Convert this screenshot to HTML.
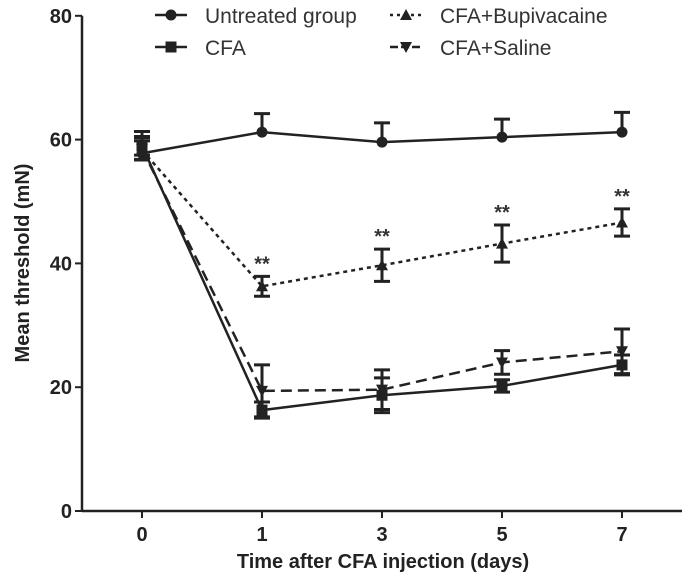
<!DOCTYPE html>
<html><head><meta charset="utf-8"><style>
html,body{margin:0;padding:0;background:#fff}
svg{display:block;font-family:"Liberation Sans",Arial,sans-serif}
</style></head><body>
<svg id="chart" width="695" height="583" viewBox="0 0 695 583" xmlns="http://www.w3.org/2000/svg">
<g id="axes"></g>
<g id="series"></g>
<g id="legend"></g>
<text transform="translate(29,263) rotate(-90)" text-anchor="middle" font-size="20" font-weight="bold" fill="#222">Mean threshold (mN)</text>
<text x="383" y="568" text-anchor="middle" font-size="20" font-weight="bold" fill="#222">Time after CFA injection (days)</text>
</svg>
<script>
const categories = ["0","1","3","5","7"];
const yTicks = [0,20,40,60,80];
const untreated = [57.8,61.2,59.6,60.4,61.2];
const untreatedErr = [3.5,3.0,3.1,2.9,3.2];
const cfa = [59.0,16.3,18.7,20.2,23.6];
const cfaErr = [1.5,1.3,2.8,1.0,1.6];
const bupi = [58.3,36.3,39.7,43.2,46.6];
const bupiErr = [1.5,1.6,2.6,3.0,2.2];
const saline = [58.5,19.4,19.6,24.0,25.8];
const salineErr = [1.8,4.2,3.2,1.9,3.6];
const sigLabels = ["","**","**","**","**"];

const NS="http://www.w3.org/2000/svg";
function xs(i){return 142+i*120;}
function ys(v){return 511-v*6.19;}
function mk(tag,attrs,parent){const e=document.createElementNS(NS,tag);for(const k in attrs)e.setAttribute(k,attrs[k]);parent.appendChild(e);return e;}
const axes=document.getElementById('axes'),ser=document.getElementById('series'),leg=document.getElementById('legend');
const C="#222";
let a=mk('line',{x1:82,y1:ys(80),x2:82,y2:ys(0),stroke:C,'stroke-width':2.5},axes);


a=mk('line',{x1:82,y1:ys(0),x2:682,y2:ys(0),stroke:C,'stroke-width':2.5},axes);


yTicks.forEach(t=>{
  const l=mk('line',{x1:75,y1:ys(t),x2:82,y2:ys(t),stroke:C,'stroke-width':2},axes);
  
  
  const tx=mk('text',{x:72,y:ys(t)+7,'text-anchor':'end','font-size':20,'font-weight':'bold',fill:C},axes);
  tx.textContent=t;
  
  
});
categories.forEach((c,i)=>{
  const l=mk('line',{x1:xs(i),y1:ys(0),x2:xs(i),y2:ys(0)+7,stroke:C,'stroke-width':2},axes);
  
  
  const tx=mk('text',{x:xs(i),y:541,'text-anchor':'middle','font-size':20,'font-weight':'bold',fill:C},axes);
  tx.textContent=c;
  
  
});
function marker(shape,x,y,g){
  let m;
  if(shape==='circle')m=mk('circle',{cx:x,cy:y,r:5.5,fill:C},g);
  else if(shape==='square')m=mk('rect',{x:x-5.5,y:y-5.5,width:11,height:11,fill:C},g);
  else if(shape==='up')m=mk('polygon',{points:`${x},${y-6} ${x+6},${y+5} ${x-6},${y+5}`,fill:C},g);
  else m=mk('polygon',{points:`${x},${y+6} ${x+6},${y-5} ${x-6},${y-5}`,fill:C},g);
  return m;
}
function drawSeries(name,vals,errs,shape,dash,upOnly){
  const g=mk('g',{},ser);
  
  
  const p=mk('polyline',{points:vals.map((v,i)=>xs(i)+','+ys(v)).join(' '),fill:'none',stroke:C,'stroke-width':2.5,'stroke-dasharray':dash},g);
  
  
  vals.forEach((v,i)=>{
    const x=xs(i),top=ys(v+errs[i]),bot=upOnly?ys(v):ys(v-errs[i]);
    const e=mk('path',{d:`M${x},${top}V${bot}M${x-8},${top}H${x+8}`+(upOnly?'':`M${x-8},${bot}H${x+8}`),stroke:C,'stroke-width':3,fill:'none'},g);
    
    
    const m=marker(shape,x,ys(v),g);
    
    
  });
}
drawSeries('untreated',untreated,untreatedErr,'circle','',true);
drawSeries('cfa',cfa,cfaErr,'square','',false);
drawSeries('bupivacaine',bupi,bupiErr,'up','4,4',false);
drawSeries('saline',saline,salineErr,'down','11,6',false);
sigLabels.forEach((s,i)=>{
  if(!s)return;
  const t=mk('text',{x:xs(i),y:ys(bupi[i]+bupiErr[i])-6,'text-anchor':'middle','font-size':20,'font-weight':'bold',fill:'#333'},ser);
  t.textContent=s;
  
  
});
const legendItems=[["Untreated group",'circle','',155,15],["CFA",'square','',155,47],["CFA+Bupivacaine",'up','3,4',390,15],["CFA+Saline",'down','8,3',390,47]];
legendItems.forEach(it=>{
  const g=mk('g',{},leg);
  
  
  mk('line',{x1:it[3],y1:it[4],x2:it[3]+32,y2:it[4],stroke:C,'stroke-width':2.5,'stroke-dasharray':it[2]},g);
  const m=marker(it[1],it[3]+16,it[4],g);
  const t=mk('text',{x:it[3]+50,y:it[4]+8,'font-size':21,fill:'#333'},g);
  t.textContent=it[0];
});
</script>
</body></html>
